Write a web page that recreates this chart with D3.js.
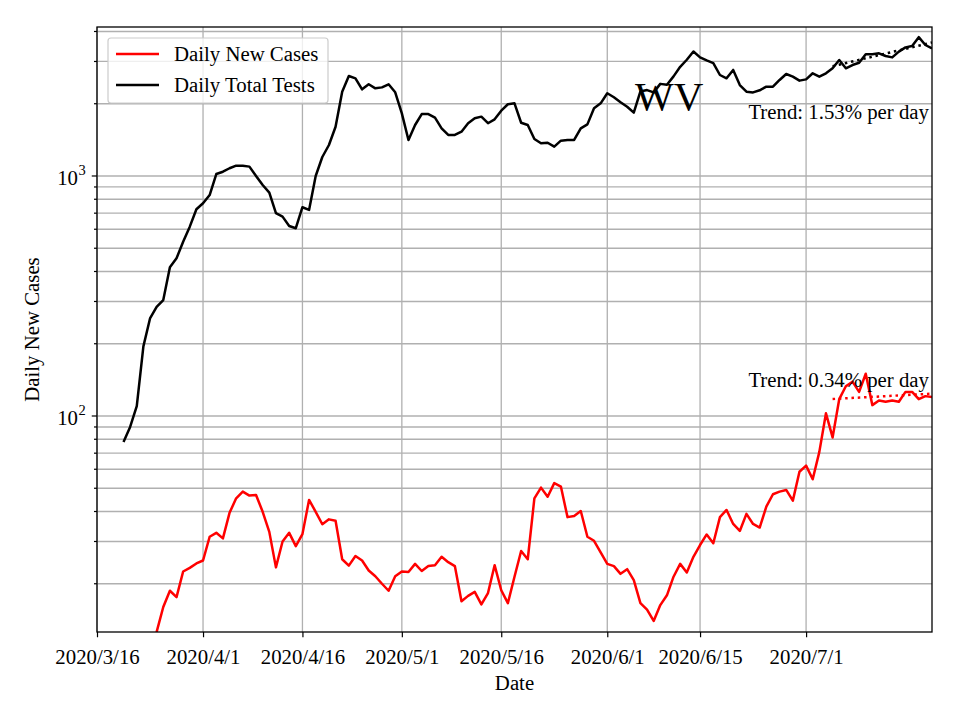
<!DOCTYPE html>
<html><head><meta charset="utf-8">
<script src="https://cdn.jsdelivr.net/npm/d3@7"></script>
<style>
body{margin:0;background:#fff}
svg{display:block}
text{font-family:"Liberation Serif","Times New Roman",serif;fill:#000}
</style>
</head><body>
<svg id="chart" width="960" height="720"></svg>
<script>
// ---------------- data ----------------
const casesStart = "2020-03-24";
const cases = [10.5,12.6,16.0,18.7,17.6,22.5,23.3,24.3,25.0,31.4,32.6,30.9,39.5,45.4,48.4,46.6,46.9,39.9,32.9,23.4,
  30.0,32.6,28.7,32.2,44.7,39.9,35.4,37.1,36.6,25.3,23.8,26.1,25.0,22.7,21.5,20.0,18.7,21.5,22.5,22.4,
  24.2,22.6,23.7,23.9,25.9,24.6,23.7,16.9,17.8,18.5,16.4,18.3,23.9,18.8,16.6,21.4,27.4,25.3,45.4,50.3,
  46.1,52.5,50.8,37.9,38.3,40.2,31.4,30.2,27.0,24.2,23.7,22.0,23.0,20.7,16.6,15.6,14.0,16.3,17.9,21.4,
  24.2,22.3,25.9,29.0,32.1,29.5,37.9,40.6,35.5,33.2,39.1,35.5,34.3,41.9,47.2,48.4,49.2,44.4,58.6,62.1,
  54.5,70.9,102.6,81.4,117.5,133,139,126,150,111,116,114.6,116,114.6,126,126,117.5,121,120];

const testsStart = "2020-03-20";
const tests = [78,90,110,195,255,285,304,417,454,532,615,727,770,833,1019,1042,1077,1104,1104,1094,
  1000,917,852,700,677,619,606,741,722,1000,1200,1346,1604,2244,2610,2552,2296,2410,2319,2340,
  2410,2233,1823,1413,1631,1811,1811,1750,1580,1482,1482,1530,1659,1740,1767,1659,1722,1871,1990,2008,
  1667,1631,1426,1368,1376,1325,1403,1413,1413,1580,1641,1915,2008,2212,2128,2028,1943,1837,2250,2280,
  2230,2420,2400,2600,2850,3050,3300,3120,3030,2951,2635,2552,2766,2393,2244,2230,2275,2356,2356,2512,
  2661,2594,2496,2527,2679,2594,2679,2811,3043,2811,2900,2963,3213,3213,3245,3162,3120,3296,3434,3480,
  3788,3514,3400];

const trendDates = ["2020-07-05", "2020-07-20"];
const casesTrend = [117.7, 123.9];
const testsTrend = [2867, 3599];
const casesTrendLabel = "Trend: 0.34% per day";
const testsTrendLabel = "Trend: 1.53% per day";

const xDomain = ["2020-03-16", "2020-07-20"];
const xTickDates = ["2020-03-16","2020-04-01","2020-04-16","2020-05-01","2020-05-16","2020-06-01","2020-06-15","2020-07-01"];
const xTickLabels = ["2020/3/16","2020/4/1","2020/4/16","2020/5/1","2020/5/16","2020/6/1","2020/6/15","2020/7/1"];
const yDomain = [12.59, 4176];
const yMajorTicks = [100, 1000];
const yMajorExp = ["2", "3"];
const seriesNames = ["Daily New Cases", "Daily Total Tests"];
const seriesColors = ["#ff0000", "#000000"];
const watermark = "WV";

// ---------------- layout ----------------
const m = {left: 97, right: 932, top: 27, bottom: 632};
const LW = 2.5;
const parse = d3.timeParse("%Y-%m-%d");
const svg = d3.select("#chart");

const x = d3.scaleTime().domain(xDomain.map(parse)).range([m.left, m.right]);
const y = d3.scaleLog().domain(yDomain).range([m.bottom, m.top]);

const casesData = cases.map((v, i) => ({d: d3.timeDay.offset(parse(casesStart), i), v}));
const testsData = tests.map((v, i) => ({d: d3.timeDay.offset(parse(testsStart), i), v}));
const casesTrendData = trendDates.map((d, i) => ({d: parse(d), v: casesTrend[i]}));
const testsTrendData = trendDates.map((d, i) => ({d: parse(d), v: testsTrend[i]}));

svg.append("defs").append("clipPath").attr("id", "clip")
  .append("rect").attr("x", m.left).attr("y", m.top)
  .attr("width", m.right - m.left).attr("height", m.bottom - m.top);

// grid
const yGridTicks = y.ticks();
const grid = svg.append("g");
grid.selectAll(".hg").data(yGridTicks).join("line")
  .attr("x1", m.left).attr("x2", m.right)
  .attr("y1", d => y(d)).attr("y2", d => y(d))
  .attr("stroke", "#b0b0b0").attr("stroke-width", 1.3);
grid.selectAll(".vg").data(xTickDates.map(parse)).join("line")
  .attr("x1", d => x(d)).attr("x2", d => x(d))
  .attr("y1", m.top).attr("y2", m.bottom)
  .attr("stroke", "#b0b0b0").attr("stroke-width", 1.3);

// lines
const line = d3.line().x(d => x(d.d)).y(d => y(d.v));
const plot = svg.append("g").attr("clip-path", "url(#clip)");
plot.append("path").datum(casesData).attr("d", line)
  .attr("fill", "none").attr("stroke", seriesColors[0]).attr("stroke-width", LW)
  .attr("stroke-linejoin", "round");
plot.append("path").datum(testsData).attr("d", line)
  .attr("fill", "none").attr("stroke", seriesColors[1]).attr("stroke-width", LW)
  .attr("stroke-linejoin", "round");
plot.append("path").datum(casesTrendData).attr("d", line)
  .attr("fill", "none").attr("stroke", seriesColors[0]).attr("stroke-width", LW)
  .attr("stroke-dasharray", "2.5,3.8");
plot.append("path").datum(testsTrendData).attr("d", line)
  .attr("fill", "none").attr("stroke", seriesColors[1]).attr("stroke-width", LW)
  .attr("stroke-dasharray", "2.5,3.8");

// annotations
svg.append("text").attr("x", 929).attr("y", 119).attr("text-anchor", "end")
  .attr("font-size", 20.8).text(testsTrendLabel);
svg.append("text").attr("x", 929).attr("y", 387).attr("text-anchor", "end")
  .attr("font-size", 20.8).text(casesTrendLabel);
svg.append("text").attr("x", 635).attr("y", 110)
  .attr("font-size", 41).text(watermark);

// axes
const xAxis = d3.axisBottom(x).tickValues(xTickDates.map(parse))
  .tickFormat((d, i) => xTickLabels[i]).tickSize(5.25).tickPadding(11);
const gx = svg.append("g").attr("transform", `translate(0,${m.bottom})`).call(xAxis);
gx.select(".domain").remove();
gx.selectAll(".tick line").attr("stroke", "#000").attr("stroke-width", 1.2);
gx.selectAll(".tick text").attr("font-size", 20.8)
  .attr("font-family", "'Liberation Serif', serif").attr("fill", "#000").attr("dy", "0.78em");

const yMinor = yGridTicks.filter(t => !yMajorTicks.includes(t));
const gy = svg.append("g");
gy.selectAll(".mt").data(yMinor).join("line")
  .attr("x1", m.left - 3).attr("x2", m.left).attr("y1", d => y(d)).attr("y2", d => y(d))
  .attr("stroke", "#000").attr("stroke-width", 1.2);
gy.selectAll(".Mt").data(yMajorTicks).join("line")
  .attr("x1", m.left - 5.25).attr("x2", m.left).attr("y1", d => y(d)).attr("y2", d => y(d))
  .attr("stroke", "#000").attr("stroke-width", 1.2);
gy.selectAll(".yl").data(yMajorTicks).join("text")
  .attr("x", 78).attr("y", d => y(d) + 9).attr("text-anchor", "end")
  .attr("font-size", 20.8).text("10");
gy.selectAll(".ye").data(yMajorTicks).join("text")
  .attr("x", 78.5).attr("y", d => y(d) - 1)
  .attr("font-size", 14.5).text((d, i) => yMajorExp[i]);

// spines
svg.append("rect").attr("x", m.left).attr("y", m.top)
  .attr("width", m.right - m.left).attr("height", m.bottom - m.top)
  .attr("fill", "none").attr("stroke", "#000").attr("stroke-width", 1.3);

// axis titles
svg.append("text").attr("x", (m.left + m.right) / 2).attr("y", 690)
  .attr("text-anchor", "middle").attr("font-size", 20.8).text("Date");
svg.append("text").attr("transform", `translate(39,${(m.top + m.bottom) / 2}) rotate(-90)`)
  .attr("text-anchor", "middle").attr("font-size", 20.8).text(seriesNames[0]);

// legend
const lg = svg.append("g");
lg.append("rect").attr("x", 108).attr("y", 38).attr("width", 220).attr("height", 65)
  .attr("rx", 3).attr("fill", "#fff").attr("fill-opacity", 0.8)
  .attr("stroke", "#cccccc").attr("stroke-width", 1.2);
seriesNames.forEach((n, i) => {
  const yy = 54 + i * 31;
  lg.append("line").attr("x1", 116).attr("x2", 159).attr("y1", yy).attr("y2", yy)
    .attr("stroke", seriesColors[i]).attr("stroke-width", LW);
  lg.append("text").attr("x", 174).attr("y", yy + 6.5).attr("font-size", 20.8).text(n);
});
</script>
</body></html>
